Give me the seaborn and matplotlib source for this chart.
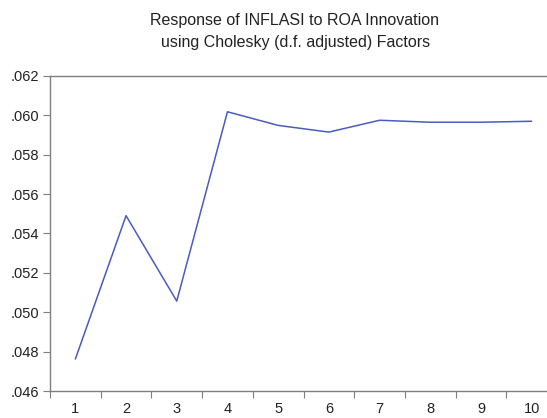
import numpy as np
import pandas as pd
import matplotlib
matplotlib.use('Agg')
import matplotlib.pyplot as plt
import seaborn as sns
from matplotlib.ticker import FixedLocator, FuncFormatter

# data
periods = [1, 2, 3, 4, 5, 6, 7, 8, 9, 10]
response = [0.04763, 0.05490, 0.05057, 0.06017, 0.05948,
            0.05914, 0.05974, 0.05964, 0.05964, 0.05969]
y_ticks = [0.046, 0.048, 0.050, 0.052, 0.054, 0.056, 0.058, 0.060, 0.062]
title_lines = ['Response of INFLASI to ROA Innovation',
               'using Cholesky (d.f. adjusted) Factors']

sns.set_style('white')
plt.rcParams['font.family'] = ['Liberation Sans', 'DejaVu Sans']

df = pd.DataFrame({'period': periods, 'response': response})

W, H = 547, 418
fig = plt.figure(figsize=(W / 100, H / 100), dpi=100)
# axes right edge runs past the image edge, like the cropped original
ax = fig.add_axes([50 / W, 1 - 391.2 / H, 507 / W, (391.2 - 75.7) / H])

sns.lineplot(data=df, x='period', y='response', ax=ax, color='#4a5cbc', linewidth=1.1)

ax.set_xlim(0.5, 10.5)
ax.set_ylim(0.046, 0.062)
ax.set_xlabel('')
ax.set_ylabel('')

grey = '#7f7f7f'
for side in ['top', 'left', 'bottom']:
    ax.spines[side].set_color(grey)
    ax.spines[side].set_linewidth(1.0)
ax.spines['right'].set_visible(False)

# tick marks between periods, labels at the periods
ax.xaxis.set_major_locator(FixedLocator(np.arange(0.5, 11, 1)))
ax.xaxis.set_minor_locator(FixedLocator(periods))
ax.xaxis.set_major_formatter(FuncFormatter(lambda v, p: ''))
ax.xaxis.set_minor_formatter(FuncFormatter(lambda v, p: f'{int(round(v))}'))
ax.tick_params(axis='x', which='major', direction='out', length=5, color=grey, width=0.8, bottom=True)
ax.tick_params(axis='x', which='minor', length=0, labelsize=10.5, pad=8, colors='#222222', bottom=True)

ax.set_yticks(y_ticks)
ax.yaxis.set_major_formatter(FuncFormatter(lambda v, p: f'{v:.3f}'.lstrip('0')))
ax.tick_params(axis='y', direction='out', length=5, color=grey, width=0.8, labelsize=10.5,
               pad=3, labelcolor='#222222', left=True)

fig.text(294 / W, 1 - 20 / H, title_lines[0], ha='center', va='center', fontsize=11.5, color='#222222')
fig.text(296 / W, 1 - 43 / H, title_lines[1], ha='center', va='center', fontsize=11.5, color='#222222')

fig.savefig('out.png', dpi=100)
